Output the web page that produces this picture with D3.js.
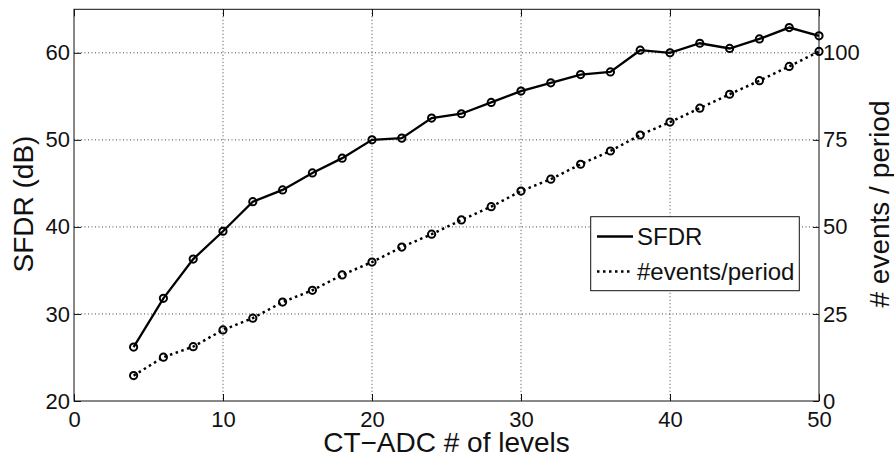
<!DOCTYPE html>
<html><head><meta charset="utf-8">
<script src="https://cdn.jsdelivr.net/npm/d3@7"></script>
<style>
html,body{margin:0;padding:0;background:#fff;}
svg{display:block;font-family:"Liberation Sans",Arial,Helvetica,sans-serif;}
</style></head>
<body>
<svg id="chart" width="894" height="457"></svg>
<script>
const levels = [4,6,8,10,12,14,16,18,20,22,24,26,28,30,32,34,36,38,40,42,44,46,48,50];
const sfdr = [26.2,31.8,36.3,39.5,42.9,44.25,46.2,47.9,50.0,50.2,52.5,53.0,54.3,55.6,56.55,57.5,57.8,60.3,60.0,61.1,60.5,61.6,62.9,61.95];
const events = [7.3,12.6,15.6,20.4,23.8,28.4,31.8,36.2,39.9,44.2,47.9,52.0,55.8,60.3,63.7,68.0,71.8,76.4,80.1,84.1,88.1,92.0,96.1,100.4];
const xTicks = [0,10,20,30,40,50];
const yLeftTicks = [20,30,40,50,60];
const yRightTicks = [0,25,50,75,100];
const xLabel = "CT\u2212ADC # of levels";
const yLeftLabel = "SFDR (dB)";
const yRightLabel = "# events / period";
const legendLabels = ["SFDR", "#events/period"];

const L = 74, R = 819, T = 9.3, B = 401;
const svg = d3.select("#chart");
const x = d3.scaleLinear().domain([0,50]).range([L,R]);
const yL = d3.scaleLinear().domain([20,65]).range([B,T]);
const yR = d3.scaleLinear().domain([0,112.5]).range([B,T]);

// grid
const grid = svg.append("g").attr("stroke","#444").attr("stroke-width",1).attr("stroke-dasharray","1,2.5");
xTicks.filter(d=>d>0&&d<50).forEach(d=>{
  grid.append("line").attr("x1",x(d)).attr("x2",x(d)).attr("y1",T).attr("y2",B);
});
yLeftTicks.filter(d=>d>20).forEach(d=>{
  grid.append("line").attr("x1",L).attr("x2",R).attr("y1",yL(d)).attr("y2",yL(d));
});

// box
svg.append("rect").attr("x",L).attr("y",T).attr("width",R-L).attr("height",B-T)
  .attr("fill","none").attr("stroke","#111").attr("stroke-width",1);

function styleAxis(g, size){
  g.select(".domain").remove();
  g.selectAll(".tick line").attr("stroke","#111").attr("stroke-width",1);
  g.selectAll(".tick text").attr("fill","#111").style("font-size",size+"px");
}
const fs = 22;
const ax = svg.append("g").attr("transform",`translate(0,${B})`)
  .call(d3.axisBottom(x).tickValues(xTicks).tickSize(-7).tickPadding(10).tickFormat(d3.format("d")));
styleAxis(ax, fs);
const axT = svg.append("g").attr("transform",`translate(0,${T})`)
  .call(d3.axisTop(x).tickValues(xTicks).tickSize(-7).tickFormat(""));
styleAxis(axT, fs);
const ayl = svg.append("g").attr("transform",`translate(${L},0)`)
  .call(d3.axisLeft(yL).tickValues(yLeftTicks).tickSize(-7).tickPadding(4).tickFormat(d3.format("d")));
styleAxis(ayl, fs);
const ayr = svg.append("g").attr("transform",`translate(${R},0)`)
  .call(d3.axisRight(yR).tickValues(yRightTicks).tickSize(-6).tickPadding(4).tickFormat(d3.format("d")));
styleAxis(ayr, fs);

// lines
const lineS = d3.line().x((d,i)=>x(levels[i])).y(d=>yL(d));
const lineE = d3.line().x((d,i)=>x(levels[i])).y(d=>yR(d));
svg.append("path").datum(sfdr).attr("d",lineS).attr("fill","none").attr("stroke","#000").attr("stroke-width",2.3);
svg.append("path").datum(events).attr("d",lineE).attr("fill","none").attr("stroke","#000").attr("stroke-width",2.5).attr("stroke-dasharray","2.5,3.5");
svg.append("g").selectAll("circle").data(sfdr).join("circle")
  .attr("cx",(d,i)=>x(levels[i])).attr("cy",d=>yL(d)).attr("r",3.6)
  .attr("fill","none").attr("stroke","#000").attr("stroke-width",2);
svg.append("g").selectAll("circle").data(events).join("circle")
  .attr("cx",(d,i)=>x(levels[i])).attr("cy",d=>yR(d)).attr("r",3.6)
  .attr("fill","none").attr("stroke","#000").attr("stroke-width",2);

// axis labels
svg.append("text").attr("x",(L+R)/2).attr("y",452).attr("text-anchor","middle")
  .style("font-size","28px").attr("fill","#111").text(xLabel);
svg.append("text").attr("transform",`translate(33,204) rotate(-90)`).attr("text-anchor","middle")
  .style("font-size","28px").attr("fill","#111").text(yLeftLabel);
svg.append("text").attr("transform",`translate(889,204) rotate(-90)`).attr("text-anchor","middle")
  .style("font-size","28px").attr("fill","#111").text(yRightLabel);

// legend
const lg = svg.append("g");
lg.append("rect").attr("x",590.7).attr("y",216.7).attr("width",208.6).attr("height",74)
  .attr("fill","#fff").attr("stroke","#111").attr("stroke-width",1);
lg.append("line").attr("x1",597).attr("x2",633).attr("y1",236.5).attr("y2",236.5)
  .attr("stroke","#000").attr("stroke-width",2.3);
lg.append("line").attr("x1",597).attr("x2",633).attr("y1",271.5).attr("y2",271.5)
  .attr("stroke","#000").attr("stroke-width",2.5).attr("stroke-dasharray","2.5,3.5");
lg.append("text").attr("x",637).attr("y",245).style("font-size","24px").attr("fill","#111").text(legendLabels[0]);
lg.append("text").attr("x",637).attr("y",280).style("font-size","24px").attr("fill","#111").text(legendLabels[1]);
</script>
</body></html>
